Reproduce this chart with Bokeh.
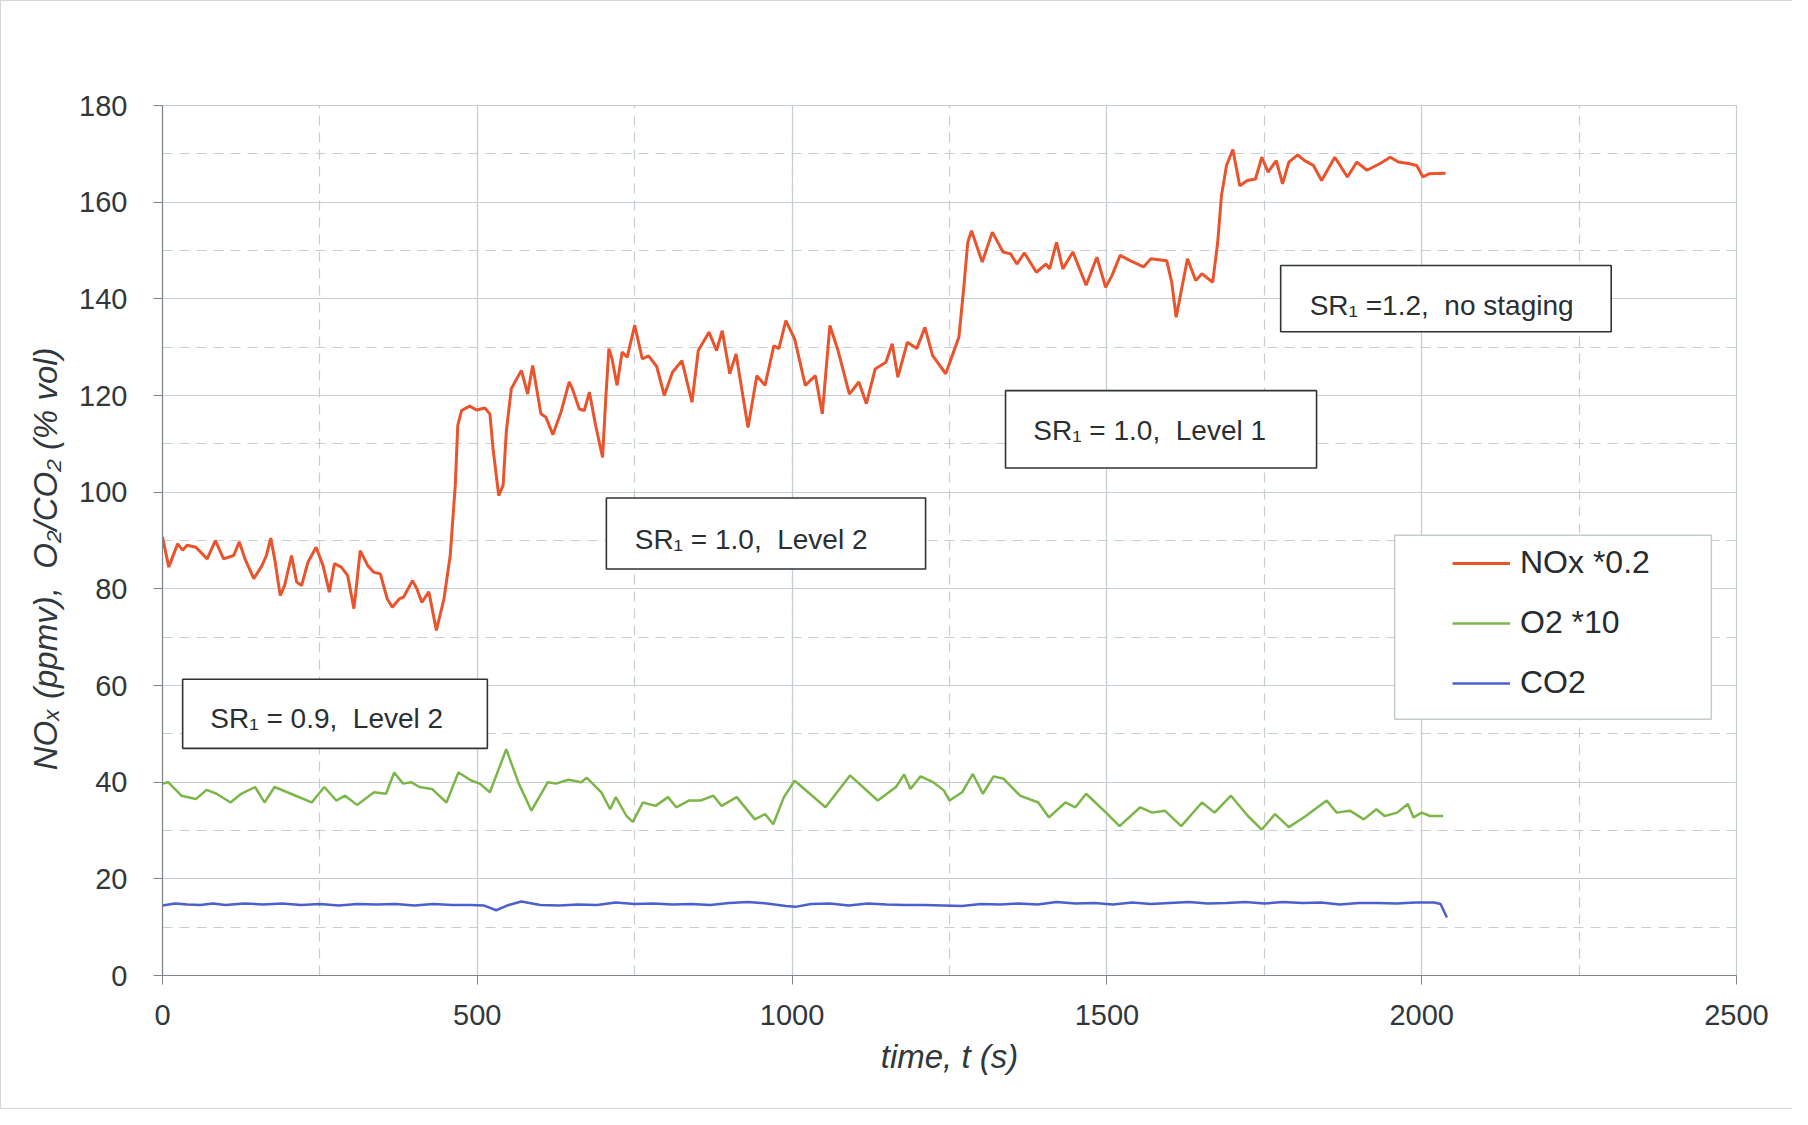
from bokeh.plotting import figure
from bokeh.models import (Range1d, SingleIntervalTicker, BoxAnnotation, Label,
                          Legend, LegendItem)
from bokeh.embed import file_html
from bokeh.resources import INLINE

# ---------------- data ----------------
t_nox = [0, 10, 24, 32, 39, 53, 71, 84, 97, 113, 122, 131, 145, 158, 165, 172, 179, 187,
         194, 205, 213, 221, 231, 244, 255, 265, 273, 284, 294, 304, 307, 314, 326, 336,
         346, 357, 365, 376, 383, 397, 404, 412, 423, 435, 447, 457, 465, 469, 475, 488,
         499, 512, 520, 525, 534, 541, 546, 554, 570, 580, 588, 601, 609, 620, 633, 646,
         651, 662, 670, 678, 688, 699, 704, 709, 714, 722, 730, 738, 750, 762, 772, 785,
         797, 810, 825, 841, 851, 868, 880, 889, 901, 911, 930, 944, 957, 971, 979, 990,
         1004, 1021, 1037, 1048, 1060, 1073, 1091, 1106, 1118, 1132, 1149, 1159, 1168,
         1183, 1198, 1211, 1223, 1244, 1265, 1273, 1279, 1285, 1302, 1318, 1335, 1347,
         1357, 1369, 1388, 1403, 1409, 1420, 1430, 1446, 1467, 1484, 1498, 1508, 1521,
         1537, 1558, 1570, 1595, 1603, 1610, 1628, 1641, 1651, 1668, 1676, 1682, 1690,
         1700, 1711, 1723, 1736, 1746, 1756, 1769, 1779, 1789, 1803, 1814, 1828, 1841,
         1862, 1882, 1897, 1913, 1934, 1950, 1963, 1979, 1992, 2002, 2012, 2038]
nox = [90.7, 84.5, 89.3, 88.0, 89.0, 88.6, 86.2, 90.0, 86.2, 86.9, 89.7, 86.2, 82.1, 84.8,
       86.9, 90.5, 85.5, 78.6, 80.7, 86.9, 81.4, 80.7, 85.5, 88.6, 84.8, 79.3, 85.2, 84.5,
       82.8, 75.9, 79.3, 87.9, 84.8, 83.4, 83.1, 77.9, 76.2, 77.9, 78.3, 81.7, 80.0, 77.2,
       79.4, 71.4, 77.9, 86.9, 101.4, 113.8, 116.9, 117.8, 117.0, 117.4, 116.2, 109.0,
       99.3, 101.4, 112.4, 121.4, 125.2, 120.3, 126.2, 116.2, 115.5, 111.9, 116.6, 122.8,
       121.4, 117.2, 116.9, 120.7, 113.8, 107.2, 119.3, 129.7, 127.6, 122.1, 129.0, 127.9,
       134.5, 127.6, 128.2, 126.0, 120.0, 124.8, 127.2, 118.6, 129.3, 133.1, 129.3, 133.4,
       124.5, 128.6, 113.4, 124.1, 122.1, 130.3, 129.7, 135.5, 131.7, 122.1, 124.1, 116.2,
       134.5, 129.3, 120.3, 122.8, 118.3, 125.5, 126.9, 130.7, 123.8, 131.0, 129.7, 134.1,
       128.3, 124.5, 132.1, 142.8, 151.7, 154.1, 147.6, 153.8, 149.7, 149.3, 147.2, 149.5,
       145.5, 147.2, 146.2, 151.7, 146.2, 149.7, 142.8, 148.6, 142.4, 144.8, 149.0, 147.9,
       146.6, 148.3, 147.9, 143.4, 136.2, 148.3, 143.8, 145.2, 143.4, 151.7, 161.4, 167.6,
       170.9, 163.4, 164.5, 164.8, 169.3, 166.2, 168.6, 163.8, 168.3, 169.8, 168.6, 167.6,
       164.5, 169.3, 165.2, 168.3, 166.6, 168.0, 169.3, 168.3, 168.0, 167.6, 165.2, 165.9,
       166.0]

t_o2 = [0, 9, 30, 53, 70, 86, 108, 125, 147, 162, 178, 204, 237, 257, 276, 290, 309, 336,
        355, 368, 382, 395, 408, 428, 451, 470, 491, 504, 520, 546, 566, 586, 612, 625,
        645, 665, 674, 697, 711, 720, 737, 747, 763, 783, 803, 816, 836, 855, 875, 888,
        912, 941, 957, 970, 987, 1004, 1013, 1053, 1092, 1136, 1165, 1178, 1188, 1204,
        1224, 1241, 1250, 1270, 1287, 1303, 1320, 1336, 1362, 1391, 1408, 1434, 1450,
        1467, 1493, 1520, 1553, 1572, 1592, 1618, 1651, 1671, 1697, 1724, 1746, 1767,
        1789, 1816, 1849, 1865, 1886, 1908, 1928, 1941, 1961, 1978, 1987, 2000, 2013, 2034]
o2 = [39.7, 40.0, 37.2, 36.5, 38.4, 37.6, 35.8, 37.6, 39.0, 35.8, 39.0, 37.6, 35.8, 39.0,
      36.2, 37.2, 35.3, 37.9, 37.6, 42.0, 39.7, 40.0, 39.0, 38.6, 35.8, 42.0, 40.3, 39.7,
      37.9, 46.8, 39.7, 34.1, 40.0, 39.7, 40.5, 40.0, 40.9, 37.9, 34.4, 36.9, 33.0, 31.8,
      35.8, 35.1, 36.9, 34.8, 36.2, 36.2, 37.2, 35.1, 36.9, 32.3, 33.4, 31.3, 36.9, 40.3,
      39.3, 34.8, 41.4, 36.2, 39.0, 41.6, 38.6, 41.2, 40.0, 38.3, 36.2, 37.9, 41.7, 37.6,
      41.2, 40.7, 37.2, 35.8, 32.7, 35.8, 34.8, 37.6, 34.4, 30.9, 34.8, 33.7, 34.1, 30.9,
      35.8, 33.7, 37.2, 33.0, 30.2, 33.4, 30.7, 33.0, 36.2, 33.7, 34.1, 32.3, 34.4, 33.0,
      33.7, 35.5, 32.7, 33.7, 33.0, 33.0]

t_co2 = [0, 20, 40, 60, 80, 100, 130, 160, 190, 220, 250, 280, 310, 340, 370, 400, 430,
         460, 490, 510, 530, 550, 570, 600, 630, 660, 690, 720, 750, 780, 810, 840, 870,
         900, 930, 960, 990, 1005, 1030, 1060, 1090, 1120, 1150, 1180, 1210, 1240, 1270,
         1300, 1330, 1360, 1390, 1420, 1450, 1480, 1510, 1540, 1570, 1600, 1630, 1660,
         1690, 1720, 1750, 1780, 1810, 1840, 1870, 1900, 1930, 1960, 1990, 2020, 2030, 2040]
co2 = [14.5, 14.9, 14.7, 14.6, 14.9, 14.6, 14.9, 14.7, 14.9, 14.6, 14.8, 14.5, 14.8, 14.7,
       14.8, 14.5, 14.8, 14.6, 14.6, 14.5, 13.5, 14.6, 15.3, 14.6, 14.5, 14.7, 14.6, 15.1,
       14.8, 14.9, 14.7, 14.8, 14.6, 15.0, 15.2, 14.9, 14.4, 14.2, 14.8, 14.9, 14.5, 14.9,
       14.7, 14.6, 14.6, 14.5, 14.4, 14.8, 14.7, 14.9, 14.7, 15.2, 14.9, 15.0, 14.7, 15.1,
       14.8, 15.0, 15.2, 14.9, 15.0, 15.2, 14.9, 15.2, 15.0, 15.1, 14.7, 15.0, 15.0, 14.9,
       15.1, 15.1, 14.8, 12.0]

NB = "\u00a0"
series_labels = ["NOx *0.2", "O2 *10", "CO2"]
box_texts = ["SR\u2081 = 0.9," + NB + " Level 2", "SR\u2081 = 1.0," + NB + " Level 2",
             "SR\u2081 = 1.0," + NB + " Level 1", "SR\u2081 =1.2," + NB + " no staging"]
x_label = "time, t (s)"
y_label = "NO\u2093 (ppmv)," + NB + " O\u2082/CO\u2082 (% vol)" + NB * 4

# ---------------- styling ----------------
FONT = "Liberation Sans"
GRID = "#c5ced2"
C_NOX, C_O2, C_CO2 = "#e9542c", "#7cb649", "#4c5fcf"

p = figure(width=1792, height=1109, x_range=Range1d(0, 2500), y_range=Range1d(0, 180),
           output_backend="svg", toolbar_location=None,
           min_border_left=161, min_border_right=57, min_border_top=104,
           min_border_bottom=135)
p.styles = {"border-left": "1px solid #d3d8da", "border-top": "1px solid #d3d8da",
            "border-bottom": "1px solid #d3d8da"}
p.outline_line_color = GRID
p.outline_line_width = 1.2
p.background_fill_color = "white"
p.border_fill_color = "white"

p.xaxis.ticker = SingleIntervalTicker(interval=500, num_minor_ticks=2)
p.yaxis.ticker = SingleIntervalTicker(interval=20, num_minor_ticks=2)

for ax in (p.xaxis, p.yaxis):
    ax.axis_line_color = "#7d878b"
    ax.axis_line_width = 1.2
    ax.major_tick_line_color = "#7d878b"
    ax.major_tick_in = 0
    ax.major_tick_out = 9
    ax.minor_tick_line_color = None
    ax.major_label_text_font = FONT
    ax.major_label_text_font_size = "29px"
    ax.major_label_text_color = "#30383c"
    ax.axis_label_text_font = FONT
    ax.axis_label_text_font_size = "33px"
    ax.axis_label_text_font_style = "italic"
    ax.axis_label_text_color = "#30383c"

p.xaxis.axis_label = x_label
p.yaxis.axis_label = y_label
p.xaxis.major_label_standoff = 20
p.yaxis.major_label_standoff = 26
p.xaxis.axis_label_standoff = 10
p.yaxis.axis_label_standoff = 12

for g in (p.xgrid, p.ygrid):
    g.grid_line_color = GRID
    g.grid_line_width = 1.2
    g.minor_grid_line_color = GRID
    g.minor_grid_line_width = 1.2
    g.minor_grid_line_dash = "10 7"

r_nox = p.line(t_nox, nox, line_color=C_NOX, line_width=3)
r_o2 = p.line(t_o2, o2, line_color=C_O2, line_width=2.5)
r_co2 = p.line(t_co2, co2, line_color=C_CO2, line_width=2.5)

# annotation boxes
boxes = [(32, 516, 47.0, 61.3, 76, 53.2),
         (705, 1212, 84.1, 98.8, 750, 90.3),
         (1339, 1833, 105.0, 121.0, 1383, 112.7),
         (1776, 2301, 133.2, 146.9, 1822, 138.6)]
for (l, r, b, t, tx, ty), txt in zip(boxes, box_texts):
    p.add_layout(BoxAnnotation(left=l, right=r, bottom=b, top=t, fill_color="white",
                               fill_alpha=1.0, line_color="#2e3336", line_alpha=1.0,
                               line_width=1.6))
    p.add_layout(Label(x=tx, y=ty, text=txt, text_font=FONT, text_font_size="28px",
                       text_baseline="middle", text_color="#2a2f32"))

# legend frame + legend
p.add_layout(BoxAnnotation(left=1957, right=2460, bottom=53.0, top=91.1, fill_color="white",
                           fill_alpha=1.0, line_color="#c3cbce", line_alpha=1.0,
                           line_width=1.5))
legend = Legend(items=[LegendItem(label=series_labels[0], renderers=[r_nox]),
                       LegendItem(label=series_labels[1], renderers=[r_o2]),
                       LegendItem(label=series_labels[2], renderers=[r_co2])],
                location=(1290, 274), padding=0, margin=0, spacing=23,
                glyph_width=58, glyph_height=30, label_standoff=10,
                label_text_font=FONT, label_text_font_size="32px",
                label_text_color="#262c2f", background_fill_alpha=0.0,
                border_line_color=None)
p.add_layout(legend)

open("out.html", "w").write(file_html(p, INLINE))
